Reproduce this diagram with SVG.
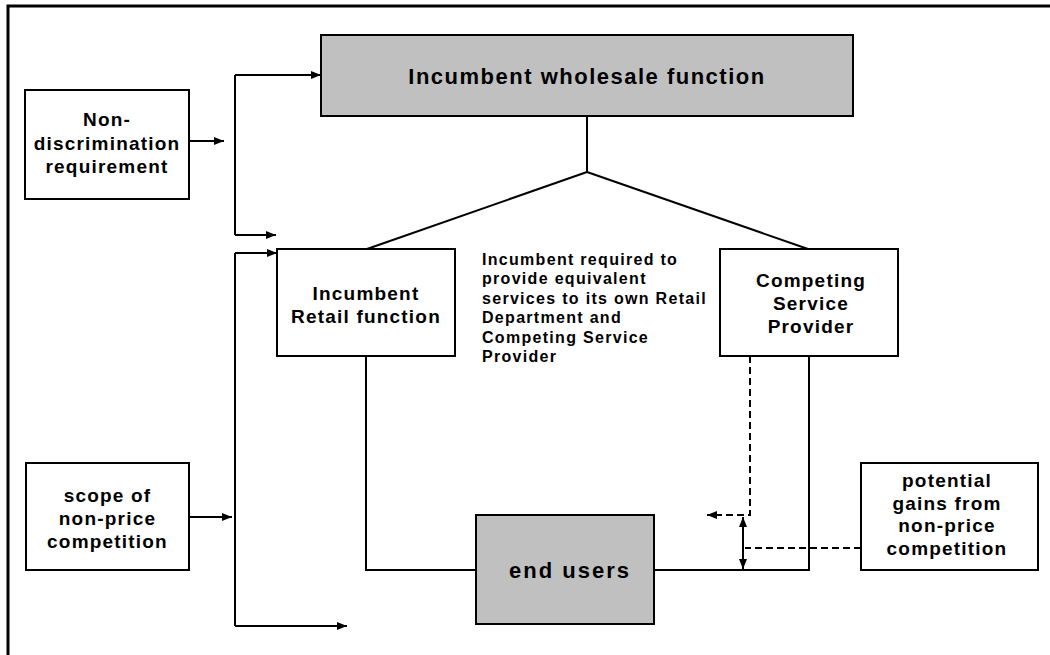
<svg xmlns="http://www.w3.org/2000/svg" width="1050" height="655" viewBox="0 0 1050 655">
  <style>
    .box { fill: #ffffff; stroke: #000000; stroke-width: 2; }
    .grey { fill: #c0c0c0; stroke: #000000; stroke-width: 2; }
    .lbl { font-family: "Liberation Sans", Arial, sans-serif; font-weight: bold; font-size: 19px; letter-spacing: 1.2px; text-anchor: middle; fill: #000000; }
    .note { font-family: "Liberation Sans", Arial, sans-serif; font-weight: bold; font-size: 16px; letter-spacing: 1.3px; fill: #000000; }
    .ln { fill: none; stroke: #000000; stroke-width: 2; }
    .dash { fill: none; stroke: #000000; stroke-width: 2; stroke-dasharray: 7 4; }
  </style>
  <defs>
    <marker id="arr" viewBox="0 0 10 8" refX="10" refY="4" markerWidth="10" markerHeight="8" markerUnits="userSpaceOnUse" orient="auto">
      <path d="M0,0 L10,4 L0,8 Z" fill="#000000"/>
    </marker>
    <marker id="arrStart" viewBox="0 0 10 8" refX="0" refY="4" markerWidth="10" markerHeight="8" markerUnits="userSpaceOnUse" orient="auto">
      <path d="M10,0 L0,4 L10,8 Z" fill="#000000"/>
    </marker>
  </defs>

  <!-- page frame -->
  <path d="M8,655 L8,6 L1050,6" fill="none" stroke="#000000" stroke-width="3"/>

  <g id="connectors">
    <!-- wholesale to retail / competing provider -->
    <path class="ln" d="M587,116 L587,172 M587,172 L367,249 M587,172 L808,249"/>
    <!-- non-discrimination requirement feed -->
    <path class="ln" d="M189,141 L224,141" marker-end="url(#arr)"/>
    <path class="ln" d="M235,75 L235,235"/>
    <path class="ln" d="M235,75 L321,75" marker-end="url(#arr)"/>
    <path class="ln" d="M235,235 L276,235" marker-end="url(#arr)"/>
    <!-- scope of non-price competition feed -->
    <path class="ln" d="M189,517 L232,517" marker-end="url(#arr)"/>
    <path class="ln" d="M235,253 L235,626"/>
    <path class="ln" d="M235,253 L277,253" marker-end="url(#arr)"/>
    <path class="ln" d="M235,626 L347,626" marker-end="url(#arr)"/>
    <!-- supply to end users -->
    <path class="ln" d="M366,356 L366,570 L476,570"/>
    <path class="ln" d="M654,570 L809,570 L809,356"/>
    <!-- potential gains -->
    <path class="dash" d="M750,356 L750,515 L707,515" marker-end="url(#arr)"/>
    <path class="ln" d="M743,517 L743,569" marker-start="url(#arrStart)" marker-end="url(#arr)"/>
    <path class="dash" d="M861,548 L745,548"/>
  </g>

  <g id="wholesale">
    <rect class="grey" x="321" y="35" width="532" height="81"/>
    <text class="lbl" x="587" y="84" style="font-size:22px;letter-spacing:1.5px">Incumbent wholesale function</text>
  </g>

  <g id="non-discrimination">
    <rect class="box" x="25" y="90" width="164" height="109"/>
    <text class="lbl" x="107" y="126">Non-</text>
    <text class="lbl" x="107" y="149.5">discrimination</text>
    <text class="lbl" x="107" y="173">requirement</text>
  </g>

  <g id="retail">
    <rect class="box" x="277" y="249" width="178" height="107"/>
    <text class="lbl" x="366" y="300">Incumbent</text>
    <text class="lbl" x="366" y="323">Retail function</text>
  </g>

  <g id="equivalence-note">
    <text class="note" x="482" y="265">Incumbent required to</text>
    <text class="note" x="482" y="284.4">provide equivalent</text>
    <text class="note" x="482" y="303.8">services to its own Retail</text>
    <text class="note" x="482" y="323.2">Department and</text>
    <text class="note" x="482" y="342.6">Competing Service</text>
    <text class="note" x="482" y="362">Provider</text>
  </g>

  <g id="competing">
    <rect class="box" x="720" y="249" width="178" height="107"/>
    <text class="lbl" x="811" y="287">Competing</text>
    <text class="lbl" x="811" y="310">Service</text>
    <text class="lbl" x="811" y="333">Provider</text>
  </g>

  <g id="scope">
    <rect class="box" x="26" y="463" width="163" height="107"/>
    <text class="lbl" x="107.5" y="502">scope of</text>
    <text class="lbl" x="107.5" y="525">non-price</text>
    <text class="lbl" x="107.5" y="548">competition</text>
  </g>

  <g id="end-users">
    <rect class="grey" x="476" y="515" width="178" height="109"/>
    <text class="lbl" x="570" y="578" style="font-size:22px;letter-spacing:2px">end users</text>
  </g>

  <g id="potential-gains">
    <rect class="box" x="861" y="463" width="177" height="107"/>
    <text class="lbl" x="947" y="487">potential</text>
    <text class="lbl" x="947" y="510">gains from</text>
    <text class="lbl" x="947" y="532">non-price</text>
    <text class="lbl" x="947" y="555">competition</text>
  </g>
</svg>
